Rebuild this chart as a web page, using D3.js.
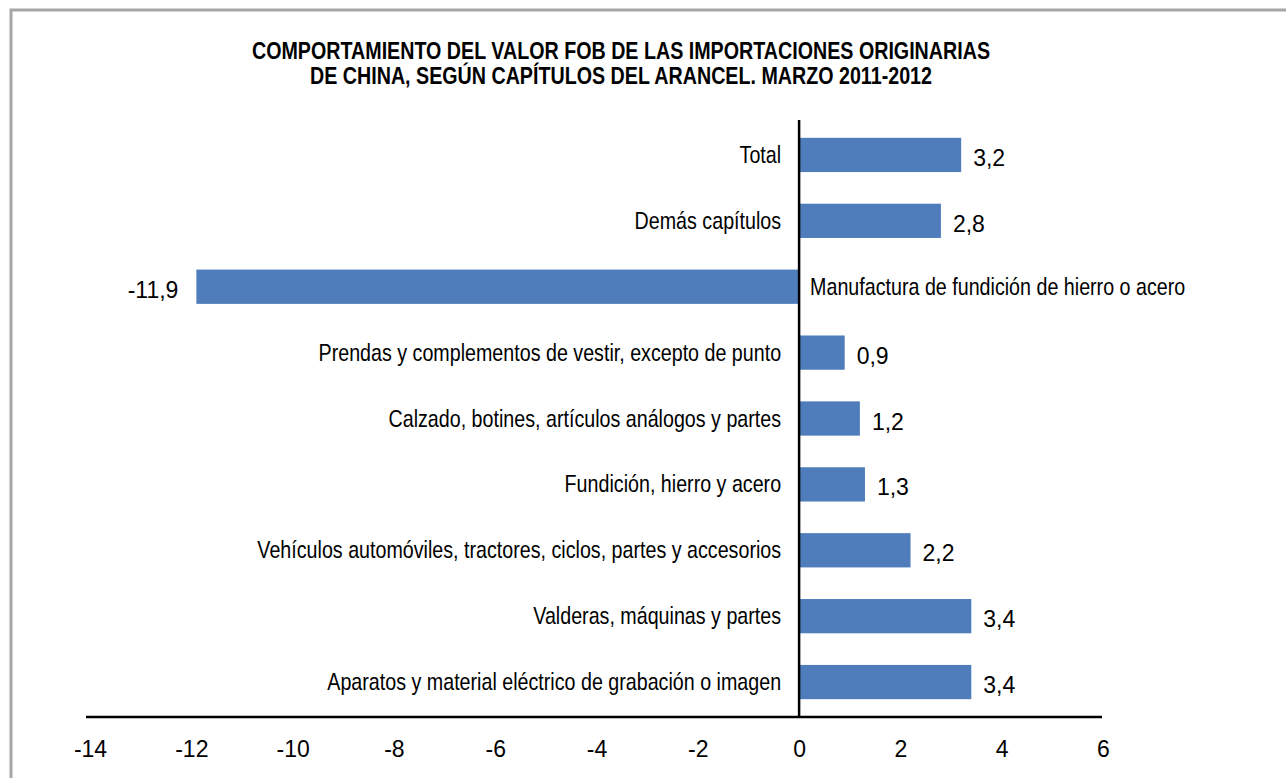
<!DOCTYPE html>
<html>
<head>
<meta charset="utf-8">
<script src="https://cdn.jsdelivr.net/npm/d3@7"></script>
<style>
  body { margin: 0; background: #fff; }
  text { font-family: "Liberation Sans", Arial, sans-serif; }
</style>
</head>
<body>
<div id="chart"></div>
<script>
// data
const categories = [
  "Total",
  "Demás capítulos",
  "Manufactura de fundición de hierro o acero",
  "Prendas y complementos de vestir, excepto de punto",
  "Calzado, botines, artículos análogos y partes",
  "Fundición, hierro y acero",
  "Vehículos automóviles, tractores, ciclos, partes y accesorios",
  "Valderas, máquinas y partes",
  "Aparatos y material eléctrico de grabación o imagen"
];
const values = [3.2, 2.8, -11.9, 0.9, 1.2, 1.3, 2.2, 3.4, 3.4];
const tickValues = [-14, -12, -10, -8, -6, -4, -2, 0, 2, 4, 6];
const titleLines = [
  "COMPORTAMIENTO DEL VALOR FOB DE LAS IMPORTACIONES ORIGINARIAS",
  "DE CHINA, SEGÚN CAPÍTULOS DEL ARANCEL. MARZO 2011-2012"
];

let width = 1286, height = 778;
let narrow = 0.82; // no Arial Narrow installed, squeeze horizontally

let svg = d3.select("#chart")
  .append("svg")
  .attr("width", width)
  .attr("height", height);

// outer frame (only top and left visible in the crop)
svg.append("path")
  .attr("d", "M11,800 L11,10 L1300,10")
  .attr("fill", "none")
  .attr("stroke", "#a6a6a6")
  .attr("stroke-width", 3);

// title
svg.selectAll(".title")
  .data(titleLines)
  .enter()
  .append("text")
  .attr("class", "title")
  .attr("transform", function(d, i) {
    return "translate(621," + (59 + i * 25) + ") scale(" + narrow + ",1)";
  })
  .attr("text-anchor", "middle")
  .style("font-size", "24px")
  .style("font-weight", "bold")
  .text(function(d) { return d; });

let x = d3.scaleLinear()
  .domain([-14, 6])
  .range([90, 1103]);

let y = d3.scaleBand()
  .domain(categories)
  .range([122, 715])
  .paddingInner(0.48)
  .paddingOuter(0.24);

let fmt = function(v) { return d3.format(".1f")(v).replace(".", ",").replace("\u2212", "-"); };

// bars
svg.selectAll(".bar")
  .data(values)
  .enter()
  .append("rect")
  .attr("class", "bar")
  .attr("x", function(d) { return x(Math.min(0, d)); })
  .attr("y", function(d, i) { return y(categories[i]); })
  .attr("width", function(d) { return Math.abs(x(d) - x(0)); })
  .attr("height", y.bandwidth())
  .attr("fill", "#4f7dbb");

// bottom axis
let xAxis = svg.append("g")
  .attr("transform", "translate(0,717)")
  .call(d3.axisBottom(x).tickValues(tickValues).tickSize(0).tickPadding(24));
xAxis.select(".domain")
  .attr("d", "M86,0H1102")
  .attr("stroke", "#000")
  .attr("stroke-width", 2.5);
xAxis.selectAll("text")
  .style("font-family", "'Liberation Sans', Arial, sans-serif")
  .style("font-size", "23px")
  .attr("fill", "#000")
  .text(function(d) { return String(d); });

// vertical zero line
svg.append("line")
  .attr("x1", x(0)).attr("x2", x(0))
  .attr("y1", 120).attr("y2", 717)
  .attr("stroke", "#000")
  .attr("stroke-width", 2.5);

// category labels
svg.selectAll(".cat")
  .data(categories)
  .enter()
  .append("text")
  .attr("class", "cat")
  .attr("transform", function(d, i) {
    let tx = values[i] < 0 ? x(0) + 11 : x(0) - 18;
    let ty = y(d) + y.bandwidth() / 2 + 8;
    return "translate(" + tx + "," + ty + ") scale(" + narrow + ",1)";
  })
  .attr("text-anchor", function(d, i) { return values[i] < 0 ? "start" : "end"; })
  .style("font-size", "24px")
  .attr("fill", "#000")
  .text(function(d) { return d; });

// value labels
svg.selectAll(".value")
  .data(values)
  .enter()
  .append("text")
  .attr("class", "value")
  .attr("x", function(d) { return d < 0 ? x(d) - 18 : x(d) + 12; })
  .attr("y", function(d, i) { return y(categories[i]) + y.bandwidth() / 2 + 3; })
  .attr("dy", "0.35em")
  .attr("text-anchor", function(d) { return d < 0 ? "end" : "start"; })
  .style("font-size", "23px")
  .attr("fill", "#000")
  .text(function(d) { return fmt(d); });
</script>
</body>
</html>
